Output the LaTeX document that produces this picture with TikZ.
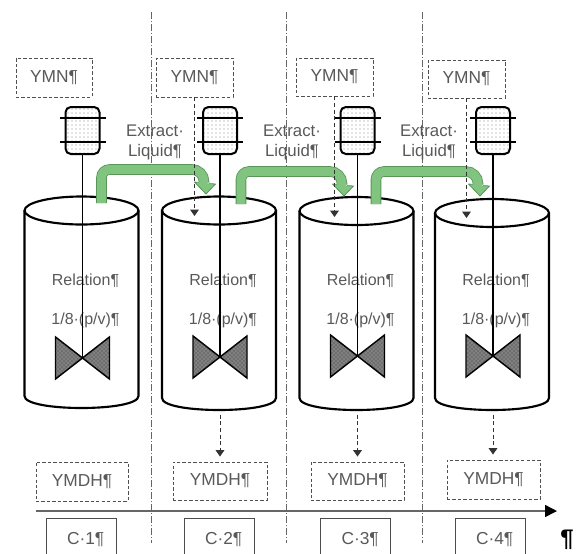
\documentclass[tikz,border=0pt]{standalone}
\usepackage{fontspec}
\setmainfont{Liberation Sans}
\usetikzlibrary{arrows.meta,patterns}
\definecolor{txtgray}{RGB}{89,89,89}
\definecolor{linegray}{RGB}{80,80,80}
\definecolor{flowfill}{RGB}{128,196,128}
\definecolor{flowedge}{RGB}{88,150,88}
\begin{document}
\begin{tikzpicture}[x=0.75pt,y=-0.75pt,
  lbl/.style={text=txtgray, inner sep=0pt},
  boxfont/.style={font=\fontsize{13}{15}\selectfont},
  tankfont/.style={font=\fontsize{12}{14}\selectfont},
  dbox/.style={draw=linegray, dash pattern=on 2.5pt off 1.6pt, line width=0.7pt,
    text=txtgray, boxfont, inner sep=0pt},
  cbox/.style={draw=black!70, line width=0.75pt, text=txtgray, boxfont,
    minimum width=52.5pt, minimum height=31pt, inner sep=0pt},
  filterbox/.style={draw=black, line width=1.5pt, rounded corners=4pt,
    pattern=dots, pattern color=black!45, minimum width=25.5pt,
    minimum height=35.25pt, inner sep=0pt},
  tankline/.style={draw=black, line width=1.6pt},
  shaft/.style={draw=black, line width=1.2pt},
  blade/.style={draw=black, line width=1.1pt, fill=black!50},
  bladetexture/.style={pattern=crosshatch dots, pattern color=black!80},
  divider/.style={draw=black!60, line width=0.6pt,
    dash pattern=on 5pt off 1.6pt on 0.8pt off 1.6pt},
  feed/.style={draw=black!80, line width=0.75pt, dash pattern=on 3pt off 2pt,
    -{Triangle[length=4.8pt,width=6.5pt]}},
  flowband/.style={draw=flowedge, line width=0.6pt, double=flowfill,
    double distance=6.7pt},
  axisline/.style={draw=black!60, line width=1.1pt,
    -{Triangle[length=9pt,width=9pt,color=black]}}
]
\useasboundingbox (0,0) rectangle (577,553);

% stage separators
\foreach \x in {151,286,422}
  \draw[divider] (\x,12) -- (\x,543);

% extraction tanks with filter, shaft and agitator
\foreach \i/\cx/\sx/\ty/\by/\ay in
  {1/81.5/82.5/210.5/396/358, 2/219/220/210.5/398/357,
   3/356.5/357.5/211/398/356, 4/492/493/213/398/356}{
  \draw[tankline] (\cx,\ty) ellipse [x radius=57, y radius=14];
  \draw[tankline] (\cx-57,\ty) -- (\cx-57,\by)
    .. controls (\cx-57,\by+16) and (\cx+57,\by+16) .. (\cx+57,\by)
    -- (\cx+57,\ty);
  \coordinate (tb\i) at (\sx,\by+12);
  \node[lbl, tankfont] (rel\i) at (\sx+3,280.5) {Relation¶};
  \node[lbl, tankfont] (ratio\i) at (\sx+3,320) {1/8·(p/v)¶};
  \filldraw[blade] (\sx,\ay) -- (\sx-27,\ay-21) -- (\sx-27,\ay+21) -- cycle;
  \filldraw[blade] (\sx,\ay) -- (\sx+27,\ay-21) -- (\sx+27,\ay+21) -- cycle;
  \fill[bladetexture] (\sx,\ay) -- (\sx-27,\ay-21) -- (\sx-27,\ay+21) -- cycle
    (\sx,\ay) -- (\sx+27,\ay-21) -- (\sx+27,\ay+21) -- cycle;
  \node[filterbox] (f\i) at (\sx,130.5) {};
  \draw[line width=1.5pt] (\sx-23,118) -- (\sx+23,118);
  \draw[line width=1.5pt] (\sx-23,141.5) -- (\sx+23,141.5);
  \draw[shaft] (f\i.south) -- (\sx,\ay);
}

% extract liquid transfer between stages
\foreach \v/\hy/\d/\bot in {101.5/169.5/204/203, 241/171.5/342/204, 376/171.5/478/204}{
  \draw[flowband] (\v,\bot) [rounded corners=6pt] -- (\v,\hy)
    [rounded corners=9pt] -- (\d,\hy) [sharp corners] -- (\d,\hy+13);
  \fill[flowfill] (\d-9.5,\hy+12.5) -- (\d+11.5,\hy+14.5) -- (\d+2,\hy+24.5) -- cycle;
  \draw[flowedge, line width=0.6pt, line join=round]
    (\d-5.3,\hy+12.9) -- (\d-9.5,\hy+12.5) -- (\d+2,\hy+24.5)
    -- (\d+11.5,\hy+14.5) -- (\d+5.3,\hy+14.1);
}

% labels of the transfers
\foreach \x [count=\k] in {155,292,429}
  \node[lbl, align=center, font=\fontsize{12.6}{15}\selectfont] (ex\k) at (\x,142)
    {Extract·\\Liquid¶};

% solvent feeds
\node[dbox, minimum width=57pt, minimum height=29.25pt] (ymn1) at (54,77.5) {YMN¶};
\node[dbox, minimum width=57.75pt, minimum height=29.25pt] (ymn2) at (194.5,77.5) {YMN¶};
\node[dbox, minimum width=57.75pt, minimum height=28.5pt] (ymn3) at (334.5,77) {YMN¶};
\node[dbox, minimum width=57.75pt, minimum height=28.5pt] (ymn4) at (466.5,79) {YMN¶};
\draw[feed] (ymn2.south) -- (ymn2.south |- 0,216);
\draw[feed] (ymn3.south) -- (ymn3.south |- 0,217);
\draw[feed] (ymn4.south) -- (ymn4.south |- 0,218);

% stage outputs
\node[dbox, minimum width=69pt, minimum height=29.25pt] (ymdh1) at (82,481.5) {YMDH¶};
\node[dbox, minimum width=70.5pt, minimum height=28.5pt] (ymdh2) at (220,481) {YMDH¶};
\node[dbox, minimum width=69.75pt, minimum height=28.5pt] (ymdh3) at (357.5,481) {YMDH¶};
\node[dbox, minimum width=69.75pt, minimum height=29.25pt] (ymdh4) at (493.5,479.5) {YMDH¶};
\foreach \i in {2,3,4}
  \draw[feed, shorten <=3.5pt, shorten >=3.75pt] (tb\i) -- (tb\i |- ymdh\i.north);

% stage axis
\coordinate (ax0) at (36,511);
\coordinate (ax1) at (557,511);
\draw[axisline] (ax0) -- (ax1);

% stage names
\node[cbox] (c1) at (81,539.6) {\hspace*{7pt}C·1¶};
\node[cbox] (c2) at (219,539.6) {\hspace*{7pt}C·2¶};
\node[cbox] (c3) at (355.5,539.6) {\hspace*{7pt}C·3¶};
\node[cbox] (c4) at (490,539.6) {\hspace*{7pt}C·4¶};

\node[inner sep=0pt, font=\bfseries\fontsize{18}{20}\selectfont] (pm) at (567,540) {¶};
\end{tikzpicture}
\end{document}
